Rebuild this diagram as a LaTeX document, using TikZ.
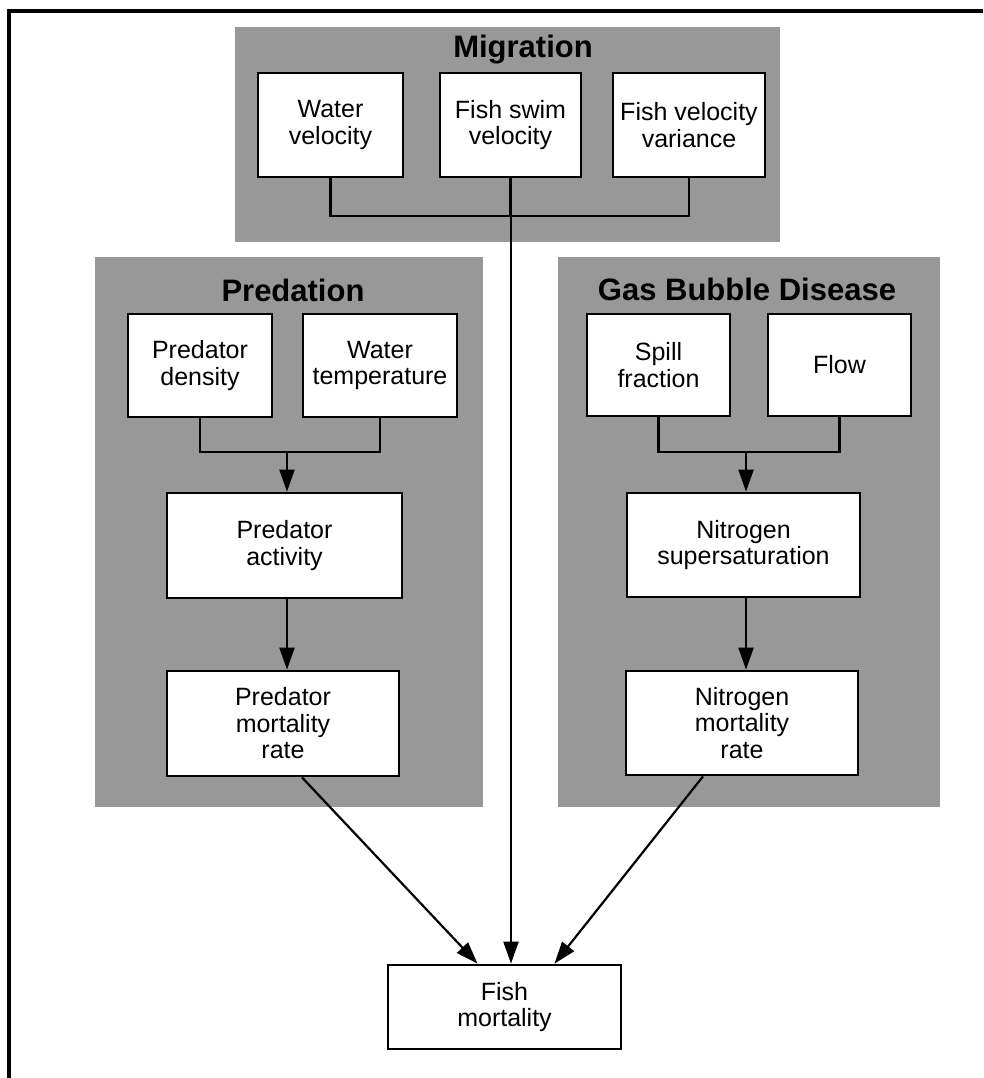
\documentclass[tikz,border=0pt]{standalone}
\usepackage{fontspec}
\setmainfont{Liberation Sans}
\usetikzlibrary{arrows.meta,calc}
\definecolor{panelgray}{RGB}{152,152,152}
\begin{document}
\begin{tikzpicture}[x=1pt,y=-1pt,
  panel/.style={fill=panelgray,draw=none,inner sep=0pt},
  grouptitle/.style={font=\fontsize{31}{34}\selectfont\bfseries,inner sep=0pt},
  varbox/.style={draw=black,fill=white,line width=2.8pt,align=center,inner sep=0pt,
    font=\fontsize{25}{26.5}\selectfont},
  link/.style={line width=2.2pt},
  flow/.style={line width=2.2pt,-{Triangle[length=22pt,width=15pt]}}]
% page and frame
\useasboundingbox (0,0) rectangle (983,1078);
\fill[white] (0,0) rectangle (983,1078);
\coordinate (frameTL) at (9,11);
\coordinate (frameTR) at (983,11);
\coordinate (frameBL) at (9,1078);
\draw[line width=3.5pt] (frameBL) -- (frameTL) -- (frameTR);

% group panels
\node[panel,minimum width=545,minimum height=215] (migp) at (507.5,134.5) {};
\node[panel,minimum width=388,minimum height=550] (predp) at (289,532) {};
\node[panel,minimum width=382,minimum height=550] (gasp) at (749,532) {};

\node[grouptitle] (migt) at (523,50) {Migration};
\node[grouptitle] (predt) at (293,290) {Predation};
\node[grouptitle] (gast) at (747,289) {Gas Bubble Disease};

% migration variables
\node[varbox,minimum width=145,minimum height=104] (wv) at (330.5,125) {Water\\velocity};
\node[varbox,minimum width=141,minimum height=104] (fsv) at (510.5,125) {Fish swim\\velocity};
\node[varbox,minimum width=152,minimum height=104] (fvv) at (689,125) {Fish velocity\\variance};

% predation variables
\node[varbox,minimum width=144,minimum height=103] (pd) at (200,365.5) {Predator\\density};
\node[varbox,minimum width=154,minimum height=103] (wt) at (380,365.5) {Water\\temperature};
\node[varbox,minimum width=235,minimum height=105] (pa) at (284.5,545.5) {Predator\\activity};
\node[varbox,minimum width=232,minimum height=105] (pm) at (283,723.5) {Predator\\mortality\\rate};

% gas bubble disease variables
\node[varbox,minimum width=143,minimum height=102] (sf) at (658.5,365) {Spill\\fraction};
\node[varbox,minimum width=143,minimum height=102] (fl) at (839.5,365) {Flow};
\node[varbox,minimum width=233,minimum height=104] (ns) at (743.5,545) {Nitrogen\\supersaturation};
\node[varbox,minimum width=232,minimum height=104] (nm) at (742,723) {Nitrogen\\mortality\\rate};

% outcome
\node[varbox,minimum width=233,minimum height=84] (fm) at (504.5,1007) {Fish\\mortality};

% migration bracket and trunk
\coordinate (migjoin) at (511,216);
\draw[link] (wv.south) -- (wv.south |- migjoin) -- (fvv.south |- migjoin) -- (fvv.south);
\draw[link] (fsv.south) -- (fsv.south |- migjoin);
\draw[flow] (migjoin) -- (migjoin |- fm.north);

% predation bracket and chain
\coordinate (predjoin) at (287,452);
\draw[link] (pd.south) -- (pd.south |- predjoin) -- (wt.south |- predjoin) -- (wt.south);
\draw[flow] (predjoin) -- (predjoin |- pa.north);
\draw[flow] (pa.south -| predjoin) -- (pm.north -| predjoin);

% gas bubble disease bracket and chain
\coordinate (gasjoin) at (746,452);
\draw[link] (sf.south) -- (sf.south |- gasjoin) -- (fl.south |- gasjoin) -- (fl.south);
\draw[flow] (gasjoin) -- (gasjoin |- ns.north);
\draw[flow] (ns.south -| gasjoin) -- (nm.north -| gasjoin);

% mortality contributions
\draw[flow] ([xshift=19pt]pm.south) -- ([xshift=-27pt]fm.north);
\draw[flow] ([xshift=-39pt]nm.south) -- ([xshift=50pt]fm.north);
\end{tikzpicture}
\end{document}
